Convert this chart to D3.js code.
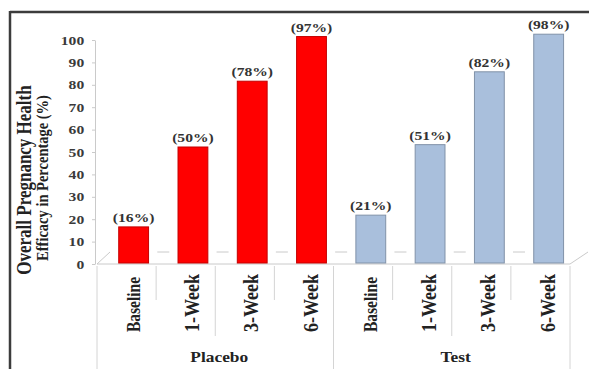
<!DOCTYPE html>
<html>
<head>
<meta charset="utf-8">
<script src="https://cdn.jsdelivr.net/npm/d3@7"></script>
<style>
  html, body { margin: 0; padding: 0; background: #fff; }
  svg { display: block; }
  text { font-family: "Liberation Serif", "Times New Roman", serif; font-weight: bold; }
</style>
</head>
<body>
<div id="chart"></div>
<script>
// Efficacy by visit for each arm of the study
const groups = ["Placebo", "Test"];
const categories = ["Baseline", "1-Week", "3-Week", "6-Week"];
const placeboValues = [16, 50, 78, 97];
const testValues = [21, 51, 82, 98];
const yTicks = [0, 10, 20, 30, 40, 50, 60, 70, 80, 90, 100];
const yTitleLines = ["Overall Pregnancy Health", "Efficacy in Percentage (%)"];

const seriesValues = { Placebo: placeboValues, Test: testValues };
const rows = [];
groups.forEach(g => categories.forEach((c, i) => {
  rows.push({ key: g + "|" + c, group: g, cat: c, value: seriesValues[g][i] });
}));
const keys = rows.map(d => d.key);

const W = 589, H = 369;
const svg = d3.select("#chart").append("svg").attr("width", W).attr("height", H);
svg.append("rect").attr("width", W).attr("height", H).attr("fill", "#fff");

// front plane (bars) and back wall (value axis) of the 3-D plot
const xBar = d3.scaleBand().domain(keys).range([104, 578.3]).paddingInner(0.48).paddingOuter(0.24);
const xDiv = d3.scaleBand().domain(keys).range([97, 570]);
const yBar = d3.scaleLinear().domain([0, 100]).range([264.5, 29.5]);
const yAxis = d3.scaleLinear().domain([0, 100]).range([264, 40]);

const floorFront = 264, floorBack = 252;
const gridCol = "#cacaca";

// floor outline
const floor = svg.append("g").attr("stroke", gridCol).attr("stroke-width", 1).attr("fill", "none");
floor.append("line").attr("x1", 97).attr("x2", 570).attr("y1", floorFront).attr("y2", floorFront);
floor.append("line").attr("x1", 97).attr("x2", 110).attr("y1", floorFront).attr("y2", floorBack);
floor.append("line").attr("x1", 570).attr("x2", 588).attr("y1", floorFront).attr("y2", floorBack);

// back-edge tick marks between bars
const step = xBar.step();
const x0 = xBar.range()[0];
floor.selectAll("line.back").data(d3.range(1, keys.length)).join("line")
  .attr("class", "back")
  .attr("x1", k => x0 + k * step - 6).attr("x2", k => x0 + k * step + 6)
  .attr("y1", floorBack).attr("y2", floorBack);

// value axis
const axisG = svg.append("g").attr("transform", "translate(95,0)")
  .call(d3.axisLeft(yAxis).tickValues(yTicks).tickSize(3).tickSizeOuter(0).tickPadding(6));
axisG.attr("font-family", null).attr("font-size", null);
axisG.select(".domain").attr("stroke", gridCol);
axisG.selectAll(".tick line").attr("stroke", gridCol);
axisG.selectAll(".tick text")
  .attr("fill", "#3a3a3a").attr("font-size", 13)
  .attr("transform", "scale(1.2,1)");

// bars, bottom edge resting on the floor's front edge
const colors = { Placebo: { fill: "#ff0000", stroke: "#c40000" }, Test: { fill: "#a9bfdc", stroke: "#8192a8" } };
svg.append("g").selectAll("rect").data(rows).join("rect")
  .attr("x", d => xBar(d.key) + 0.5)
  .attr("y", d => yBar(d.value))
  .attr("width", xBar.bandwidth() - 1)
  .attr("height", d => floorFront - 1 - yBar(d.value))
  .attr("fill", d => colors[d.group].fill)
  .attr("stroke", d => colors[d.group].stroke)
  .attr("stroke-width", 1);

// value labels
svg.append("g").selectAll("text").data(rows).join("text")
  .attr("transform", d => `translate(${xBar(d.key) + xBar.bandwidth() / 2},${yBar(d.value) - 5}) scale(1.2,1)`)
  .attr("text-anchor", "middle")
  .attr("font-size", 13)
  .attr("fill", "#333")
  .text(d => `(${d.value}%)`);

// category axis dividers
const divX = keys.map(k => xDiv(k)).concat([xDiv.range()[1]]);
svg.append("g").selectAll("line").data(divX).join("line")
  .attr("x1", d => d).attr("x2", d => d)
  .attr("y1", 266)
  .attr("y2", (d, i) => i % 4 === 0 ? 369 : (i % 4 === 2 ? 336 : 300))
  .attr("stroke", "#d4d4d4").attr("stroke-width", 1);

// category labels
svg.append("g").selectAll("text").data(rows).join("text")
  .attr("transform", d => `translate(${xBar(d.key) + xBar.bandwidth() / 2 + 6},332) scale(1.2,1) rotate(-90)`)
  .attr("text-anchor", "start")
  .attr("font-size", d => d.cat === "Baseline" ? 15.5 : 18)
  .attr("fill", "#222")
  .text(d => d.cat);

// group labels
svg.append("g").selectAll("text").data(groups).join("text")
  .attr("transform", (g, i) => `translate(${(divX[i * 4] + divX[i * 4 + 4]) / 2 + 4},362) scale(1.2,1)`)
  .attr("text-anchor", "middle")
  .attr("font-size", 14.5)
  .attr("fill", "#222")
  .text(g => g);

// y-axis title
svg.append("text")
  .attr("transform", "translate(31,180) scale(1.2,1) rotate(-90)")
  .attr("text-anchor", "middle").attr("font-size", 17).attr("fill", "#222")
  .text(yTitleLines[0]);
svg.append("text")
  .attr("transform", "translate(48,178) scale(1.2,1) rotate(-90)")
  .attr("text-anchor", "middle").attr("font-size", 14.5).attr("fill", "#222")
  .text(yTitleLines[1]);

// frame
const frame = svg.append("g").attr("stroke", "#3c3c3c").attr("stroke-width", 2.5);
frame.append("line").attr("x1", 10).attr("x2", 589).attr("y1", 12).attr("y2", 12);
frame.append("line").attr("x1", 10).attr("x2", 10).attr("y1", 11).attr("y2", 369);
</script>
</body>
</html>
